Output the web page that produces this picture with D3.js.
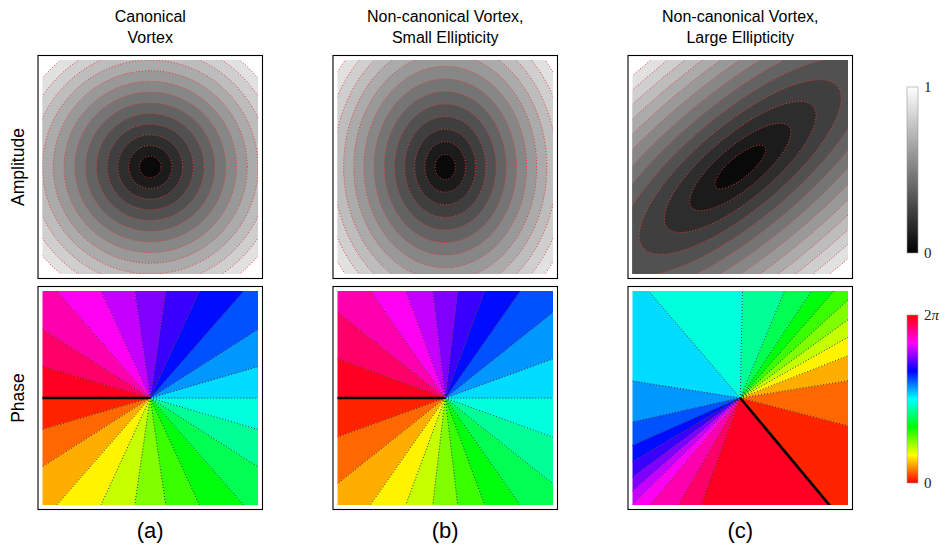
<!DOCTYPE html>
<html>
<head>
<meta charset="utf-8">
<script src="https://cdn.jsdelivr.net/npm/d3@7"></script>
<style>
  body { margin: 0; background: #fff; }
  svg { display: block; }
</style>
</head>
<body>
<svg id="fig" width="947" height="554"></svg>
<script>
// ---- figure content ----
const titleLines = [
  ["Canonical", "Vortex"],
  ["Non-canonical Vortex,", "Small Ellipticity"],
  ["Non-canonical Vortex,", "Large Ellipticity"]
];
const panelTags = ["(a)", "(b)", "(c)"];
const rowLabels = ["Amplitude", "Phase"];

// Vortex field u = -(sx·x' + i·sy·y'), the x' axis turned by axisDeg from the x axis
const scaleX = [1.0, 1.06, 1.0];
const scaleY = [1.0, 0.85, 0.34];
const axisDeg = [0, 0, 130];

// Amplitude contour levels (|u|); nothing is filled above the last one
const ampLevels = [0.1, 0.2, 0.3, 0.4, 0.5, 0.6, 0.7, 0.8, 0.9, 1.0, 1.1, 1.2, 1.3];
const ampMax = 1.4142;

// Phase contour levels, in turns of 2π (22 equal bands)
const phaseTurns = [0/22, 1/22, 2/22, 3/22, 4/22, 5/22, 6/22, 7/22, 8/22, 9/22, 10/22,
  11/22, 12/22, 13/22, 14/22, 15/22, 16/22, 17/22, 18/22, 19/22, 20/22, 21/22, 22/22];

// Panel (c): direction (degrees, counter-clockwise from +x) of each phase level line,
// starting at the branch cut (phase 0) and going round to level 21
const phaseRayDegC = [309.6, 345.5, 9.2, 21.6, 29.6, 36.2, 42.5, 49.0, 56.5, 67.7, 88.8,
  130.4, 171.0, 192.7, 203.9, 210.8, 216.5, 221.0, 225.0, 230.0, 240.2, 250.2];

// Colour bar tick labels
const ampTicks = [{ v: 0, label: "0" }, { v: 1, label: "1" }];
const phaseTicks = [{ v: 0, label: "0" }, { v: 1, label: "2", italic: "π" }];

// ---- layout ----
const svg = d3.select("#fig");
const frameLeft = [38, 333, 628];
const frameW = 224.5, frameH = 223;
const rowTop = [55.5, 286.5];
const pad = 4.5;
const TAU = 2 * Math.PI;
const DEG = Math.PI / 180;

const gray = d3.scaleLinear().domain([0, ampMax]).range(["#000000", "#ffffff"]);
const hueScale = d3.scaleSequential(t => d3.hsl(t * 360, 1, 0.5).formatHex()).domain([0, 1]);

const defs = svg.append("defs");

function toData(p, xp, yp) {
  const a = axisDeg[p] * DEG;
  return [xp * Math.cos(a) - yp * Math.sin(a), xp * Math.sin(a) + yp * Math.cos(a)];
}
// direction angle (radians, ccw) of the line where the phase equals phi
function modelAngle(p, phi) {
  const xp = -Math.cos(phi) / scaleX[p];
  const yp = -Math.sin(phi) / scaleY[p];
  const [X, Y] = toData(p, xp, yp);
  return Math.atan2(Y, X);
}
// unwrapped, increasing list of level-line angles for a panel
function levelAngles(p) {
  let raw;
  if (p === 2) raw = phaseRayDegC.concat([phaseRayDegC[0]]).map(d => d * DEG);
  else raw = phaseTurns.map(t => modelAngle(p, t * TAU));
  const out = [raw[0]];
  for (let i = 1; i < raw.length; i++) {
    let a = raw[i];
    while (a <= out[i - 1]) a += TAU;
    out.push(a);
  }
  return out;
}

frameLeft.forEach((fx, p) => {
  rowTop.forEach((fy, row) => {
    const x = d3.scaleLinear().domain([-1, 1]).range([fx + pad, fx + frameW - pad]);
    const y = d3.scaleLinear().domain([-1, 1]).range([fy + frameH - pad, fy + pad]);
    const clipId = `clip-${p}-${row}`;
    defs.append("clipPath").attr("id", clipId)
      .append("rect")
      .attr("x", x(-1)).attr("y", y(1))
      .attr("width", x(1) - x(-1)).attr("height", y(-1) - y(1));

    const g = svg.append("g").attr("clip-path", `url(#${clipId})`);
    const line = d3.line().x(d => x(d[0])).y(d => y(d[1]));

    if (row === 0) {
      // filled amplitude bands, drawn from the outermost level inward
      const ellipse = L => d3.range(0, 240).map(i => {
        const t = i / 240 * TAU;
        return toData(p, L / scaleX[p] * Math.cos(t), L / scaleY[p] * Math.sin(t));
      });
      const bands = ampLevels.map((L, k) => ({ L, lo: k === 0 ? 0 : ampLevels[k - 1] }));
      g.selectAll("path.band").data(bands.slice().reverse()).join("path")
        .attr("class", "band")
        .attr("d", d => line.curve(d3.curveLinearClosed)(ellipse(d.L)))
        .attr("fill", d => gray((d.lo + d.L) / 2));
      g.selectAll("path.iso").data(bands).join("path")
        .attr("class", "iso")
        .attr("d", d => line.curve(d3.curveLinearClosed)(ellipse(d.L)))
        .attr("fill", "none")
        .attr("stroke", "#f0383c")
        .attr("stroke-width", 1)
        .attr("stroke-dasharray", "1,2");
    } else {
      // phase bands: wedges between successive level lines
      const far = 6;
      const ang = levelAngles(p);
      const bands = d3.range(ang.length - 1).map(j => ({
        a: ang[j], b: ang[j + 1], mid: (phaseTurns[j] + phaseTurns[j + 1]) / 2
      }));
      g.selectAll("path.band").data(bands).join("path")
        .attr("class", "band")
        .attr("d", d => {
          const pts = [[0, 0]];
          for (let s = 0; s <= 8; s++) {
            const t = d.a + (d.b - d.a) * s / 8;
            pts.push([Math.cos(t) * far, Math.sin(t) * far]);
          }
          return line.curve(d3.curveLinearClosed)(pts);
        })
        .attr("fill", d => hueScale(d.mid))
        .attr("stroke", d => hueScale(d.mid))
        .attr("stroke-width", 0.4);
      const rays = ang.slice(1, -1);
      g.selectAll("path.iso").data(rays).join("path")
        .attr("class", "iso")
        .attr("d", t => line.curve(d3.curveLinear)([[0, 0], [Math.cos(t) * far, Math.sin(t) * far]]))
        .attr("fill", "none")
        .attr("stroke", "#2a2a2a")
        .attr("stroke-width", 0.9)
        .attr("stroke-dasharray", "1,2");
      // branch cut where the phase wraps from 2π back to 0
      const c = ang[0];
      g.append("path")
        .attr("d", line.curve(d3.curveLinear)([[0, 0], [Math.cos(c) * far, Math.sin(c) * far]]))
        .attr("stroke", "#000")
        .attr("stroke-width", 2.6)
        .attr("fill", "none");
    }

    svg.append("rect")
      .attr("x", fx).attr("y", fy)
      .attr("width", frameW).attr("height", frameH)
      .attr("fill", "none")
      .attr("stroke", "#000")
      .attr("stroke-width", 1.1);
  });

  // column title and tag
  const cx = fx + frameW / 2;
  svg.append("text")
    .attr("x", cx).attr("y", 21.5)
    .attr("text-anchor", "middle")
    .style("font-family", "'Liberation Sans', Arial, sans-serif")
    .style("font-size", "16px")
    .selectAll("tspan").data(titleLines[p]).join("tspan")
    .attr("x", cx)
    .attr("dy", (d, i) => i === 0 ? 0 : 21)
    .text(d => d);
  svg.append("text")
    .attr("x", cx).attr("y", 538)
    .attr("text-anchor", "middle")
    .style("font-family", "'Liberation Sans', Arial, sans-serif")
    .style("font-size", "22px")
    .text(panelTags[p]);
});

// row labels
rowLabels.forEach((lab, row) => {
  const cy = rowTop[row] + frameH / 2;
  svg.append("text")
    .attr("transform", `translate(24,${cy}) rotate(-90)`)
    .attr("text-anchor", "middle")
    .style("font-family", "'Liberation Sans', Arial, sans-serif")
    .style("font-size", "17.5px")
    .text(lab);
});

// colour bars
const barX = 907, barW = 11;
const bars = [
  { top: 87, bottom: 253, ticks: ampTicks, stops: d3.range(0, 11).map(i => ({ o: i / 10, c: gray(i / 10 * ampMax) })) },
  { top: 315, bottom: 483, ticks: phaseTicks, stops: d3.range(0, 37).map(i => ({ o: i / 36, c: hueScale(i / 36) })) }
];
bars.forEach((b, i) => {
  const gid = `bar-grad-${i}`;
  const grad = defs.append("linearGradient").attr("id", gid)
    .attr("x1", 0).attr("y1", 1).attr("x2", 0).attr("y2", 0);
  grad.selectAll("stop").data(b.stops).join("stop")
    .attr("offset", d => d.o).attr("stop-color", d => d.c);
  svg.append("rect")
    .attr("x", barX).attr("y", b.top)
    .attr("width", barW).attr("height", b.bottom - b.top)
    .attr("fill", `url(#${gid})`)
    .attr("stroke", "#9a9a9a").attr("stroke-width", 0.6);
  const ys = d3.scaleLinear().domain([0, 1]).range([b.bottom, b.top]);
  b.ticks.forEach(t => {
    const txt = svg.append("text")
      .attr("x", barX + barW + 6).attr("y", ys(t.v) + 5)
      .style("font-family", "'Liberation Serif', 'Times New Roman', serif")
      .style("font-size", "15px")
      .style("fill", "#222")
      .text(t.label);
    if (t.italic) txt.append("tspan").style("font-style", "italic").text(t.italic);
  });
});
</script>
</body>
</html>
